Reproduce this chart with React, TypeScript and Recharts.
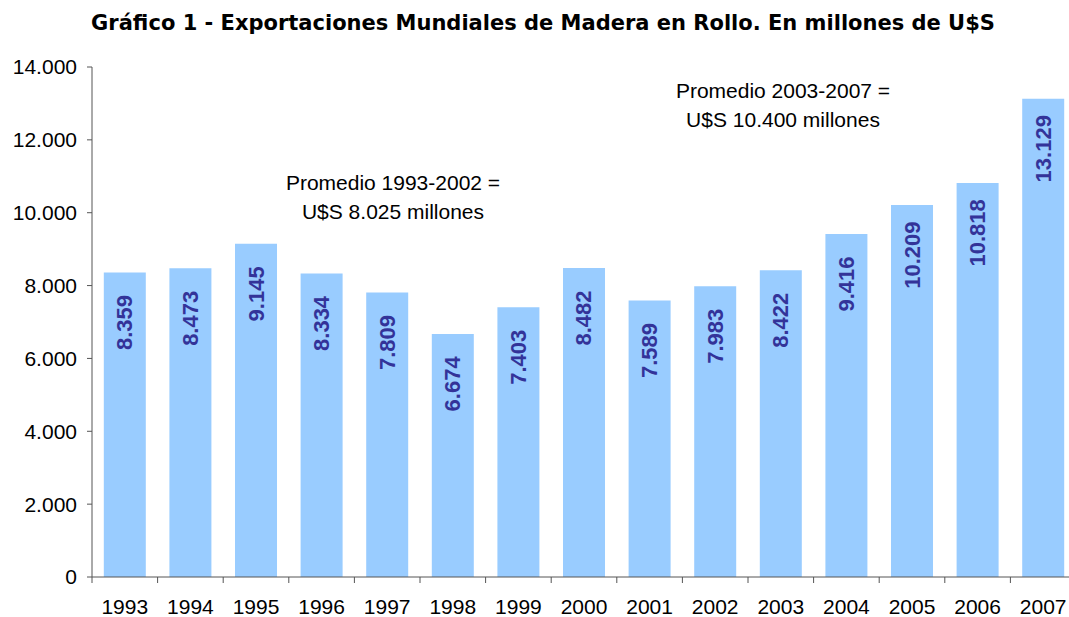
import { Bar, BarChart, LabelList, XAxis, YAxis } from "recharts";

const years = ["1993", "1994", "1995", "1996", "1997", "1998", "1999", "2000", "2001", "2002", "2003", "2004", "2005", "2006", "2007"];
const exports = [8359, 8473, 9145, 8334, 7809, 6674, 7403, 8482, 7589, 7983, 8422, 9416, 10209, 10818, 13129];
const yTicks = [0, 2000, 4000, 6000, 8000, 10000, 12000, 14000];

const data = years.map((year, i) => ({ year, value: exports[i] }));

const W = 1080;
const H = 617;
const left = 92;
const right = 4;
const bandWidth = (W - left - right) / years.length;

const fmt = (v: number) => v.toString().replace(/\B(?=(\d{3})+(?!\d))/g, ".");

const XTick = (props: any) => {
  const { x, y, payload } = props;
  const edge = x - bandWidth / 2;
  return (
    <g>
      <line x1={edge} y1={y} x2={edge} y2={y + 6} stroke="#555" />
      <text x={x} y={y + 37} textAnchor="middle" fill="#000" fontSize={21} fontFamily="Liberation Sans, Arial">
        {payload.value}
      </text>
    </g>
  );
};

const BarLabel = (props: any) => {
  const { x, y, width, value } = props;
  const cx = x + width / 2;
  const cy = y + 50;
  return (
    <text
      x={cx}
      y={cy}
      transform={`rotate(-90, ${cx}, ${cy})`}
      textAnchor="middle"
      dominantBaseline="central"
      fill="#333399"
      fontSize={22}
      fontWeight="bold"
      fontFamily="Liberation Sans, Arial"
    >
      {fmt(value)}
    </text>
  );
};

const note: React.CSSProperties = {
  position: "absolute",
  width: 300,
  textAlign: "center",
  fontFamily: "Liberation Sans, Arial",
  fontSize: 21,
  lineHeight: "29px",
  color: "#000",
};

export default function App() {
  return (
    <div style={{ position: "relative", width: 1069, height: H, overflow: "hidden", background: "#fff" }}>
      <style>{`html, body { margin: 0; overflow: hidden; }`}</style>
      <div
        style={{
          position: "absolute",
          top: 11,
          left: 0,
          width: 1086,
          textAlign: "center",
          fontFamily: "DejaVu Sans, Verdana",
          fontWeight: "bold",
          fontSize: 21,
          color: "#000",
        }}
      >
        Gráfico 1 - Exportaciones Mundiales de Madera en Rollo. En millones de U$S
      </div>
      <BarChart width={W} height={H} data={data} margin={{ top: 67, right, bottom: 0, left: 0 }} barCategoryGap="18%">
        <XAxis
          dataKey="year"
          tick={<XTick />}
          tickLine={false}
          tickSize={0}
          tickMargin={0}
          height={40}
          stroke="#555"
          interval={0}
        />
        <YAxis
          width={left}
          domain={[0, 14000]}
          ticks={yTicks}
          tickFormatter={fmt}
          tickSize={5}
          tickMargin={10}
          stroke="#555"
          tick={{ fill: "#000", fontSize: 21, fontFamily: "Liberation Sans, Arial" }}
          interval={0}
        />
        <Bar dataKey="value" fill="#99CCFF" isAnimationActive={false}>
          <LabelList dataKey="value" content={<BarLabel />} />
        </Bar>
      </BarChart>
      <div style={{ ...note, left: 243, top: 168 }}>
        Promedio 1993-2002 =<br />U$S 8.025 millones
      </div>
      <div style={{ ...note, left: 633, top: 76 }}>
        Promedio 2003-2007 =<br />U$S 10.400 millones
      </div>
    </div>
  );
}
